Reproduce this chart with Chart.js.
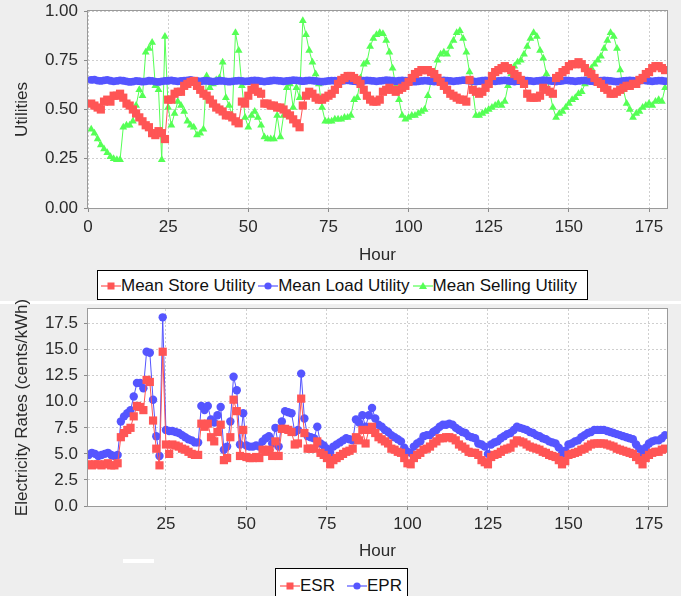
<!DOCTYPE html>
<html>
<head>
<meta charset="utf-8">
<script src="https://cdn.jsdelivr.net/npm/chart.js@4.4.1/dist/chart.umd.min.js"></script>
<style>
  html, body { margin: 0; padding: 0; background: #eeeeee; }
  body { width: 681px; height: 596px; position: relative; overflow: hidden; font-family: "Liberation Sans", Arial, sans-serif; }
  canvas { position: absolute; left: 0; }
  #utilChart { top: 0; }
  #rateChart { top: 300px; }
  .legend { position: absolute; background: #fff; border: 1px solid #000; box-sizing: border-box; display: flex; font-size: 17px; line-height: 18px; color: #111; white-space: nowrap; }
  .legend .item { display: flex; align-items: center; }
  .legend svg { display: block; }
  #utilLegend { left: 97px; top: 270px; width: 491px; height: 30px; padding: 1px 0 0 3px; }
  #rateLegend { left: 275px; top: 568px; width: 133px; height: 32px; padding: 3px 0 0 4px; }
  #sep { position: absolute; left: 0; top: 301px; width: 681px; height: 3px; background: #fff; }
  #blip { position: absolute; left: 123px; top: 559px; width: 31px; height: 4px; background: #fff; }
</style>
</head>
<body>
<canvas id="utilChart" width="681" height="272"></canvas>
<div id="sep"></div>
<canvas id="rateChart" width="681" height="272"></canvas>
<div id="utilLegend" class="legend"></div>
<div id="rateLegend" class="legend"></div>
<div id="blip"></div>
<script>
// hours 1..180 on the x axis
const hours = Array.from({ length: 180 }, (_, i) => i + 1);

const storeUtility = [
  0.53, 0.52, 0.51, 0.50, 0.54, 0.55, 0.54, 0.57, 0.57, 0.58,
  0.56, 0.53, 0.52, 0.50, 0.48, 0.46, 0.44, 0.42, 0.41, 0.38,
  0.37, 0.39, 0.38, 0.35, 0.55, 0.55, 0.58, 0.59, 0.59, 0.62,
  0.63, 0.64, 0.645, 0.62, 0.60, 0.58, 0.57, 0.55, 0.53, 0.51,
  0.50, 0.49, 0.47, 0.47, 0.46, 0.44, 0.43, 0.54, 0.53, 0.57,
  0.60, 0.61, 0.59, 0.58, 0.53, 0.53, 0.52, 0.52, 0.51, 0.51,
  0.50, 0.48, 0.47, 0.45, 0.43, 0.41, 0.52, 0.57, 0.59, 0.58,
  0.56, 0.55, 0.55, 0.56, 0.57, 0.58, 0.60, 0.63, 0.65, 0.66,
  0.67, 0.67, 0.66, 0.65, 0.63, 0.60, 0.57, 0.55, 0.54, 0.54,
  0.55, 0.59, 0.60, 0.61, 0.60, 0.59, 0.60, 0.61, 0.62, 0.64,
  0.66, 0.68, 0.69, 0.70, 0.70, 0.70, 0.69, 0.68, 0.66, 0.64,
  0.62, 0.60, 0.58, 0.57, 0.56, 0.55, 0.55, 0.54, 0.65, 0.60,
  0.59, 0.58, 0.59, 0.61, 0.63, 0.67, 0.69, 0.70, 0.71, 0.72,
  0.71, 0.70, 0.68, 0.67, 0.65, 0.63, 0.58, 0.56, 0.56, 0.56,
  0.57, 0.61, 0.60, 0.59, 0.58, 0.66, 0.67, 0.69, 0.70, 0.72,
  0.73, 0.73, 0.74, 0.73, 0.71, 0.69, 0.68, 0.66, 0.64, 0.63,
  0.61, 0.60, 0.58, 0.58, 0.59, 0.60, 0.61, 0.62, 0.62, 0.63,
  0.63, 0.65, 0.66, 0.68, 0.69, 0.71, 0.72, 0.72, 0.71, 0.70
];

const loadUtility = [
  0.650, 0.652, 0.647, 0.645, 0.648, 0.650, 0.646, 0.643, 0.645, 0.648,
  0.646, 0.643, 0.640, 0.642, 0.645, 0.644, 0.641, 0.643, 0.646, 0.645,
  0.642, 0.640, 0.643, 0.645, 0.646, 0.648, 0.645, 0.643, 0.645, 0.647,
  0.648, 0.650, 0.647, 0.645, 0.643, 0.645, 0.646, 0.644, 0.642, 0.644,
  0.646, 0.645, 0.643, 0.641, 0.643, 0.645, 0.647, 0.645, 0.643, 0.644,
  0.646, 0.648, 0.646, 0.644, 0.642, 0.644, 0.646, 0.648, 0.647, 0.645,
  0.643, 0.645, 0.647, 0.649, 0.648, 0.646, 0.644, 0.646, 0.648, 0.647,
  0.645, 0.643, 0.641, 0.643, 0.645, 0.647, 0.646, 0.644, 0.645, 0.647,
  0.648, 0.646, 0.644, 0.642, 0.644, 0.646, 0.648, 0.647, 0.645, 0.643,
  0.645, 0.647, 0.649, 0.648, 0.646, 0.644, 0.646, 0.648, 0.647, 0.645,
  0.643, 0.641, 0.643, 0.645, 0.647, 0.646, 0.644, 0.642, 0.644, 0.646,
  0.648, 0.647, 0.645, 0.643, 0.645, 0.647, 0.649, 0.648, 0.646, 0.644,
  0.642, 0.644, 0.646, 0.648, 0.647, 0.645, 0.643, 0.645, 0.647, 0.648,
  0.646, 0.644, 0.642, 0.644, 0.646, 0.648, 0.647, 0.645, 0.643, 0.645,
  0.647, 0.649, 0.648, 0.646, 0.644, 0.642, 0.644, 0.646, 0.648, 0.647,
  0.645, 0.643, 0.645, 0.647, 0.648, 0.646, 0.644, 0.642, 0.644, 0.646,
  0.648, 0.647, 0.645, 0.643, 0.641, 0.643, 0.645, 0.647, 0.648, 0.646,
  0.644, 0.646, 0.648, 0.647, 0.645, 0.643, 0.645, 0.647, 0.646, 0.644
];

const sellingUtility = [
  0.40, 0.38, 0.35, 0.32, 0.30, 0.28, 0.26, 0.25, 0.245, 0.245,
  0.41, 0.42, 0.42, 0.44, 0.52, 0.60, 0.57, 0.79, 0.81, 0.84,
  0.62, 0.60, 0.245, 0.87, 0.51, 0.42, 0.48, 0.54, 0.52, 0.49,
  0.44, 0.42, 0.41, 0.37, 0.38, 0.40, 0.67, 0.61, 0.63, 0.65,
  0.66, 0.74, 0.56, 0.52, 0.47, 0.89, 0.80, 0.62, 0.46, 0.41,
  0.47, 0.49, 0.46, 0.42, 0.36, 0.35, 0.35, 0.35, 0.47, 0.36,
  0.47, 0.61, 0.63, 0.51, 0.61, 0.56, 0.95, 0.88, 0.80, 0.74,
  0.68, 0.63, 0.51, 0.44, 0.44, 0.44, 0.45, 0.45, 0.45, 0.46,
  0.46, 0.47, 0.55, 0.56, 0.66, 0.73, 0.74, 0.82, 0.86, 0.88,
  0.89, 0.885, 0.85, 0.79, 0.71, 0.62, 0.55, 0.47, 0.45, 0.46,
  0.47, 0.47, 0.48, 0.49, 0.50, 0.57, 0.64, 0.69, 0.75, 0.78,
  0.79, 0.78, 0.82, 0.85, 0.89, 0.90, 0.86, 0.79, 0.69, 0.60,
  0.47, 0.47, 0.48, 0.49, 0.50, 0.51, 0.52, 0.53, 0.52, 0.54,
  0.62, 0.68, 0.72, 0.74, 0.75, 0.78, 0.82, 0.86, 0.89, 0.87,
  0.80, 0.76, 0.68, 0.59, 0.51, 0.46, 0.48, 0.49, 0.51, 0.53,
  0.55, 0.56, 0.58, 0.59, 0.63, 0.69, 0.71, 0.73, 0.75, 0.77,
  0.81, 0.85, 0.89, 0.87, 0.81, 0.70, 0.60, 0.53, 0.50, 0.46,
  0.48, 0.49, 0.51, 0.52, 0.53, 0.52, 0.54, 0.55, 0.54, 0.61
];

const esr = [
  4.0, 3.9, 4.0, 4.0, 3.9, 4.0, 4.1, 3.9, 3.9, 4.1,
  6.6, 7.0, 7.3, 7.5, 8.6, 9.6, 9.5, 9.2, 12.1, 11.9,
  8.2, 5.5, 3.9, 14.8, 5.9, 5.0, 5.9, 5.8, 5.7, 5.5,
  5.4, 5.2, 5.0, 4.9, 4.9, 7.9, 7.6, 7.9, 6.6, 6.2,
  7.1, 7.8, 4.4, 4.6, 6.6, 10.2, 9.1, 4.8, 7.3, 4.7,
  4.6, 4.6, 4.7, 4.6, 5.4, 5.2, 5.4, 4.8, 6.2, 4.8,
  7.4, 7.4, 7.3, 7.1, 5.9, 6.0, 10.3, 7.0, 5.5, 5.5,
  5.5, 6.2, 5.1, 4.9, 4.6, 4.0, 4.4, 4.6, 4.8, 5.0,
  5.2, 5.3, 5.5, 6.6, 6.3, 7.3, 6.0, 7.3, 7.6, 7.0,
  6.6, 6.4, 6.2, 6.0, 5.5, 5.4, 5.2, 5.1, 4.6, 4.1,
  4.0, 4.6, 4.9, 5.1, 5.4, 5.5, 5.7, 6.0, 6.2, 6.5,
  6.5, 6.6, 6.6, 6.5, 6.3, 5.9, 5.7, 5.5, 5.2, 5.1,
  5.1, 4.9, 4.4, 4.2, 4.0, 4.7, 4.9, 5.0, 5.2, 5.4,
  5.5, 5.6, 6.0, 6.3, 6.2, 6.1, 5.9, 5.7, 5.6, 5.5,
  5.4, 5.2, 5.1, 4.9, 4.8, 4.7, 4.4, 4.0, 4.3, 4.9,
  5.0, 5.1, 5.2, 5.4, 5.5, 5.7, 5.9, 6.0, 6.0, 6.0,
  6.0, 5.9, 5.8, 5.7, 5.5, 5.4, 5.3, 5.2, 5.1, 5.0,
  4.7, 4.4, 4.0, 4.6, 4.9, 5.1, 5.2, 5.2, 5.4, 5.5
];

const epr = [
  4.9, 5.1, 5.0, 4.8, 4.9, 5.0, 5.1, 4.9, 4.8, 4.9,
  8.1, 8.6, 8.9, 9.2, 10.5, 11.8, 11.8, 11.3, 14.8, 14.7,
  10.2, 6.7, 4.8, 18.1, 7.3, 7.2, 7.2, 7.1, 7.0, 6.8,
  6.6, 6.4, 6.3, 6.1, 6.1, 9.6, 9.2, 9.6, 8.3, 8.0,
  8.7, 9.5, 5.4, 5.7, 8.1, 12.4, 11.1, 5.9, 8.9, 5.8,
  5.7, 5.7, 5.8, 5.7, 6.2, 6.5, 6.7, 6.0, 7.5, 5.7,
  8.1, 9.1, 9.0, 8.9, 7.1, 7.3, 12.7, 8.4, 6.7, 6.6,
  6.5, 7.6, 6.0, 5.8, 5.5, 5.1, 5.7, 5.9, 6.1, 6.3,
  6.5, 6.4, 6.3, 8.3, 8.0, 8.7, 7.6, 8.7, 9.4, 8.4,
  7.8, 7.6, 7.3, 7.1, 6.8, 6.6, 6.4, 6.2, 5.6, 5.2,
  5.1, 5.7, 6.0, 6.2, 6.7, 6.8, 6.8, 7.1, 7.3, 7.6,
  7.8, 7.8, 7.9, 7.8, 7.5, 7.3, 7.1, 7.0, 6.7, 6.6,
  6.5, 6.0, 5.9, 5.7, 5.0, 5.9, 6.1, 6.2, 6.5, 6.7,
  6.9, 7.0, 7.3, 7.6, 7.5, 7.4, 7.3, 7.1, 7.0, 6.8,
  6.7, 6.5, 6.4, 6.2, 6.1, 6.0, 5.6, 5.0, 5.3, 5.9,
  6.0, 6.2, 6.3, 6.6, 6.8, 7.0, 7.1, 7.3, 7.3, 7.3,
  7.3, 7.2, 7.1, 7.0, 6.9, 6.8, 6.7, 6.6, 6.5, 6.4,
  5.9, 5.5, 5.0, 5.6, 6.0, 6.2, 6.3, 6.3, 6.5, 6.8
];

const hourTicksTop    = [0, 25, 50, 75, 100, 125, 150, 175];
const hourTicksBottom = [25, 50, 75, 100, 125, 150, 175];
const utilTicks = [0, 0.25, 0.5, 0.75, 1];
const rateTicks = [0, 2.5, 5, 7.5, 10, 12.5, 15, 17.5];

const RED = 'rgb(255,85,85)', BLUE = 'rgb(85,85,255)', GREEN = 'rgb(85,255,85)';
const font = { family: '"Liberation Sans", Arial, sans-serif', size: 17 };
const textColor = '#2a2a2a';

const plotFrame = {
    id: 'plotFrame',
    beforeDraw(chart) {
        const { ctx, chartArea: a } = chart;
        ctx.save();
        ctx.fillStyle = '#fff';
        ctx.fillRect(a.left, a.top, a.width, a.height);
        ctx.restore();
    },
    beforeDatasetsDraw(chart) {
        const { ctx, chartArea: a } = chart;
        ctx.save();
        ctx.strokeStyle = '#9a9a9a';
        ctx.lineWidth = 1;
        ctx.strokeRect(Math.round(a.left) - 0.5, Math.round(a.top) - 0.5, Math.round(a.width) + 1, Math.round(a.height) + 1);
        ctx.restore();
    }
};

function series(label, values, color, style, radius) {
    return {
        label,
        data: hours.map((h, i) => ({ x: h, y: values[i] })),
        borderColor: color,
        backgroundColor: color,
        borderWidth: 1,
        pointStyle: style,
        pointRadius: radius,
        pointBorderWidth: 0,
        pointBackgroundColor: color,
        tension: 0
    };
}

function makeChart(id, opts) {
    const H = 272;
    return new Chart(document.getElementById(id), {
        type: 'line',
        data: { datasets: opts.datasets },
        plugins: [plotFrame],
        options: {
            responsive: false,
            animation: false,
            devicePixelRatio: 1,
            layout: { padding: { top: opts.top, right: 14, left: 0, bottom: 0 } },
            plugins: { legend: { display: false }, tooltip: { enabled: false } },
            scales: {
                x: {
                    type: 'linear',
                    min: opts.xMin,
                    max: 180.6,
                    afterBuildTicks: axis => { axis.ticks = opts.xTicks.map(v => ({ value: v })); },
                    afterFit: axis => { axis.height = H - opts.bottom; axis.paddingLeft = 0; axis.paddingRight = 0; },
                    ticks: { font, color: textColor, padding: opts.xPad, maxRotation: 0, autoSkip: false },
                    grid: { color: '#cfcfcf', tickColor: '#8a8a8a', tickLength: 4 },
                    border: { display: false, dash: [2, 2] },
                    title: { display: true, text: 'Hour', font, color: textColor, padding: { top: 0, bottom: opts.titlePad } }
                },
                y: {
                    min: 0,
                    max: opts.yMax,
                    afterBuildTicks: axis => { axis.ticks = opts.yTicks.map(v => ({ value: v })); },
                    afterFit: axis => { axis.width = 88; axis.paddingTop = 0; axis.paddingBottom = 0; },
                    ticks: { font, color: textColor, padding: 6, callback: v => v.toFixed(opts.digits) },
                    grid: { color: '#cfcfcf', tickColor: '#8a8a8a', tickLength: 4 },
                    border: { display: false, dash: [2, 2] },
                    title: { display: true, text: opts.yTitle, font, color: textColor, padding: { top: 12, bottom: 0 } }
                }
            }
        }
    });
}

makeChart('utilChart', {
    datasets: [
        series('Mean Store Utility', storeUtility, RED, 'rect', 5.8),
        series('Mean Load Utility', loadUtility, BLUE, 'circle', 3.9),
        series('Mean Selling Utility', sellingUtility, GREEN, 'triangle', 4.5)
    ],
    top: 11, bottom: 208, xMin: 0, xTicks: hourTicksTop, xPad: 5, titlePad: 6,
    yMax: 1, yTicks: utilTicks, digits: 2, yTitle: 'Utilities'
});

makeChart('rateChart', {
    datasets: [
        series('ESR', esr, RED, 'rect', 5.8),
        series('EPR', epr, BLUE, 'circle', 4.2)
    ],
    top: 9, bottom: 206, xMin: 0.8, xTicks: hourTicksBottom, xPad: 4, titlePad: 10,
    yMax: 18.9, yTicks: rateTicks, digits: 1, yTitle: 'Electricity Rates (cents/kWh)'
});

// legends drawn as html boxes, like the original
function marker(color, shape) {
    let m = '';
    if (shape === 'rect') m = `<rect x="6.5" y="5.5" width="7" height="7" fill="${color}"/>`;
    if (shape === 'circle') m = `<circle cx="10" cy="9" r="3.6" fill="${color}"/>`;
    if (shape === 'triangle') m = `<polygon points="10,5 14,12 6,12" fill="${color}"/>`;
    return `<svg width="20" height="18"><line x1="0" y1="9" x2="20" y2="9" stroke="${color}" stroke-width="1.2"/>${m}</svg>`;
}

function buildLegend(id, items, gap) {
    const el = document.getElementById(id);
    el.innerHTML = items.map((it, i) =>
        `<span class="item" style="margin-left:${i ? gap : 0}px">${marker(it[1], it[2])}<span>${it[0]}</span></span>`
    ).join('');
}

buildLegend('utilLegend', [
    ['Mean Store Utility', RED, 'rect'],
    ['Mean Load Utility', BLUE, 'circle'],
    ['Mean Selling Utility', GREEN, 'triangle']
], 3);

buildLegend('rateLegend', [
    ['ESR', RED, 'rect'],
    ['EPR', BLUE, 'circle']
], 12);
</script>
</body>
</html>
